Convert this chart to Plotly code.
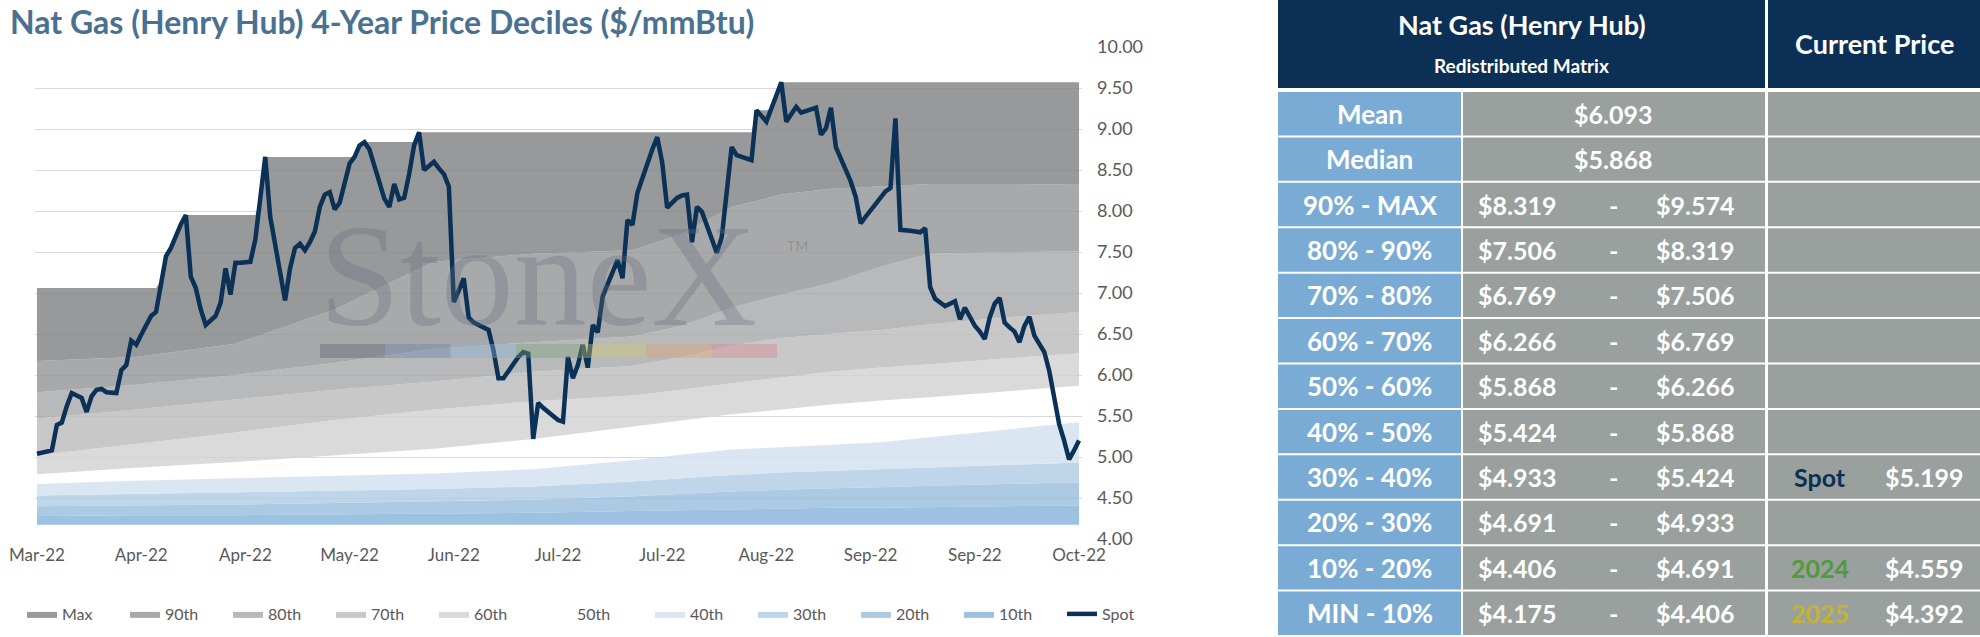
import plotly.graph_objects as go

# --- data ---
tick_labels = ["Mar-22", "Apr-22", "Apr-22", "May-22", "Jun-22", "Jul-22",
               "Jul-22", "Aug-22", "Sep-22", "Sep-22", "Oct-22"]
tick_step = 21

spot = [
    5.04, 5.05, 5.06, 5.08, 5.39, 5.42, 5.62, 5.78, 5.75, 5.72,
    5.55, 5.74, 5.82, 5.83, 5.79, 5.79, 5.78, 6.06, 6.12, 6.42,
    6.37, 6.49, 6.61, 6.72, 6.77, 7.15, 7.45, 7.55, 7.70, 7.84,
    7.95, 7.20, 7.06, 6.80, 6.61, 6.66, 6.72, 6.88, 7.30, 6.98,
    7.37, 7.37, 7.37, 7.38, 7.65, 8.15, 8.66, 7.93, 7.60, 7.25,
    6.91, 7.30, 7.55, 7.60, 7.52, 7.62, 7.75, 8.05, 8.20, 8.23,
    8.02, 8.10, 8.35, 8.58, 8.66, 8.80, 8.84, 8.75, 8.55, 8.35,
    8.15, 8.05, 8.33, 8.14, 8.16, 8.45, 8.80, 8.96, 8.50, 8.55,
    8.60, 8.52, 8.45, 8.30, 6.89, 7.03, 7.18, 6.70, 6.64, 6.61,
    6.58, 6.55, 6.30, 5.96, 5.96, 6.05, 6.13, 6.22, 6.28, 6.26,
    5.22, 5.66, 5.60, 5.55, 5.49, 5.45, 5.43, 6.22, 5.96, 6.12,
    6.37, 6.09, 6.61, 6.52, 6.96, 7.10, 7.25, 7.40, 7.18, 7.89,
    7.83, 8.22, 8.40, 8.59, 8.75, 8.90, 8.59, 8.04, 8.10, 8.16,
    8.19, 8.20, 7.62, 8.05, 7.99, 7.83, 7.66, 7.49, 7.68, 8.20,
    8.78, 8.68, 8.66, 8.64, 8.62, 9.23, 9.16, 9.09, 9.25, 9.40,
    9.57, 9.09, 9.18, 9.27, 9.20, 9.22, 9.24, 9.26, 8.93, 9.01,
    9.26, 8.78, 8.64, 8.50, 8.36, 8.17, 7.85, 7.93, 8.01, 8.09,
    8.17, 8.24, 8.28, 9.13, 7.77, 7.77, 7.76, 7.75, 7.74, 7.79,
    7.07, 6.93, 6.88, 6.84, 6.87, 6.90, 6.68, 6.82, 6.71, 6.60,
    6.53, 6.44, 6.70, 6.87, 6.94, 6.64, 6.58, 6.53, 6.40, 6.60,
    6.71, 6.48, 6.38, 6.28, 6.05, 5.70, 5.40, 5.20, 4.97, 5.08,
    5.20,
]

# running 4-year max (step series)
max_idx = [0, 24, 25, 26, 27, 28, 29, 30, 44, 45, 46, 64, 65, 66, 76, 77,
           144, 145, 147, 148, 149, 150, 210]
max_val = [7.06, 7.06, 7.15, 7.45, 7.55, 7.70, 7.84, 7.95, 7.95, 8.15, 8.66,
           8.66, 8.80, 8.84, 8.84, 8.96, 8.96, 9.23, 9.23, 9.25, 9.40, 9.57, 9.57]

band_idx = [0, 20, 40, 60, 80, 100, 120, 130, 140, 150, 160, 170, 180, 195, 210]
p90 = [6.17, 6.22, 6.38, 6.80, 7.38, 7.48, 7.52, 7.72, 8.05, 8.20, 8.27, 8.30, 8.33, 8.33, 8.319]
p80 = [5.79, 5.88, 6.00, 6.15, 6.32, 6.40, 6.47, 6.60, 6.82, 6.98, 7.12, 7.32, 7.48, 7.50, 7.506]
p70 = [5.47, 5.58, 5.70, 5.82, 5.92, 6.04, 6.11, 6.22, 6.36, 6.45, 6.50, 6.55, 6.62, 6.70, 6.769]
p60 = [5.02, 5.16, 5.30, 5.45, 5.58, 5.68, 5.75, 5.82, 5.90, 5.97, 6.04, 6.09, 6.13, 6.20, 6.266]
p50 = [4.79, 4.87, 4.94, 5.02, 5.10, 5.22, 5.37, 5.45, 5.52, 5.58, 5.64, 5.69, 5.73, 5.80, 5.868]
p40 = [4.67, 4.71, 4.74, 4.77, 4.80, 4.85, 4.96, 5.03, 5.09, 5.12, 5.15, 5.18, 5.24, 5.33, 5.424]
p30 = [4.53, 4.55, 4.57, 4.59, 4.61, 4.64, 4.70, 4.74, 4.78, 4.81, 4.83, 4.85, 4.87, 4.90, 4.933]
p20 = [4.40, 4.41, 4.42, 4.44, 4.46, 4.48, 4.52, 4.55, 4.58, 4.60, 4.62, 4.63, 4.65, 4.67, 4.691]
p10 = [4.28, 4.29, 4.29, 4.30, 4.31, 4.32, 4.34, 4.35, 4.36, 4.37, 4.38, 4.38, 4.39, 4.40, 4.406]
pmin = [4.175, 4.175, 4.175, 4.175, 4.175, 4.175, 4.175, 4.175, 4.175, 4.175, 4.175, 4.175, 4.175, 4.175, 4.175]

# table on the right
row_labels = ["Mean", "Median", "90% - MAX", "80% - 90%", "70% - 80%", "60% - 70%",
              "50% - 60%", "40% - 50%", "30% - 40%", "20% - 30%", "10% - 20%", "MIN - 10%"]
row_low = ["$6.093", "$5.868", "$8.319", "$7.506", "$6.769", "$6.266",
           "$5.868", "$5.424", "$4.933", "$4.691", "$4.406", "$4.175"]
row_high = [None, None, "$9.574", "$8.319", "$7.506", "$6.769",
            "$6.266", "$5.868", "$5.424", "$4.933", "$4.691", "$4.406"]
current_rows = {8: ("Spot", "$5.199", "#0c3055"),
                10: ("2024", "$4.559", "#4f9a3a"),
                11: ("2025", "$4.392", "#c5b332")}

# --- page geometry (pixels) ---
W, H = 1980, 637
L, R, T, B = 35, 898, 47, 98
PW, PH = W - L - R, H - T - B


def px(x):
    return (x - L) / PW


def py(y):
    return 1 - (y - T) / PH


FONT = "Lato"
GREY_TXT = "#595959"

# name, values, fill colour, legend group (two legend rows side by side)
bands = [
    ("10th", p10, "rgba(133,178,218,0.8)", "legend2"),
    ("20th", p20, "rgba(151,189,221,0.8)", "legend2"),
    ("30th", p30, "rgba(175,204,229,0.8)", "legend2"),
    ("40th", p40, "rgba(209,224,239,0.8)", "legend2"),
    ("50th", p50, "rgba(255,255,255,0)", "legend"),
    ("60th", p60, "rgba(209,209,209,0.8)", "legend"),
    ("70th", p70, "rgba(186,186,187,0.8)", "legend"),
    ("80th", p80, "rgba(166,168,170,0.8)", "legend"),
    ("90th", p90, "rgba(146,148,150,0.8)", "legend"),
]

fig = go.Figure()
fig.add_trace(go.Scatter(x=band_idx, y=pmin, mode="lines", line=dict(width=0),
                         showlegend=False, hoverinfo="skip"))
for rank, (name, vals, col, lg) in zip(range(10, 1, -1), bands):
    fig.add_trace(go.Scatter(x=band_idx, y=vals, name=name, mode="lines",
                             line=dict(width=0), fill="tonexty", fillcolor=col,
                             legendrank=rank, legend=lg))
fig.add_trace(go.Scatter(x=max_idx, y=max_val, name="Max", mode="lines",
                         line=dict(width=0), fill="tonexty",
                         fillcolor="rgba(126,128,130,0.8)", legendrank=1))
fig.add_trace(go.Scatter(x=list(range(len(spot))), y=spot, name="Spot", mode="lines",
                         line=dict(color="#0b3157", width=4.5), legendrank=11,
                         legend="legend2"))

shapes = []
annotations = []

# title
annotations.append(dict(text="<b>Nat Gas (Henry Hub) 4-Year Price Deciles ($/mmBtu)</b>",
                        x=px(8), y=py(21), xref="paper", yref="paper",
                        xanchor="left", yanchor="middle", showarrow=False,
                        font=dict(family=FONT, size=32, color="#4a7191")))

# StoneX watermark
annotations.append(dict(text="StoneX", x=px(538), y=py(276), xref="paper", yref="paper",
                        xanchor="center", yanchor="middle", showarrow=False,
                        font=dict(family="Liberation Serif", size=146,
                                  color="rgba(100,110,120,0.32)")))
annotations.append(dict(text="TM", x=px(797), y=py(245), xref="paper", yref="paper",
                        xanchor="center", yanchor="middle", showarrow=False,
                        font=dict(family=FONT, size=14, color="rgba(100,110,120,0.4)")))
bar_cols = ["rgba(90,100,112,0.4)", "rgba(100,130,165,0.4)", "rgba(140,175,215,0.4)",
            "rgba(120,160,120,0.4)", "rgba(210,200,110,0.4)", "rgba(220,160,110,0.4)",
            "rgba(215,130,145,0.4)"]
seg = (777 - 320) / len(bar_cols)
for k, c in enumerate(bar_cols):
    shapes.append(dict(type="rect", xref="paper", yref="paper",
                       x0=px(320 + k * seg), x1=px(320 + (k + 1) * seg),
                       y0=py(358), y1=py(344), fillcolor=c, line=dict(width=0),
                       layer="above"))

# table
NAVY, BLUE, GREY = "#0c3055", "#7aabd4", "#99a09e"
tl, c1, c2, tr = 1278, 1461, 1765, 1980


def rect(x0, x1, y0, y1, col):
    shapes.append(dict(type="rect", xref="paper", yref="paper", x0=px(x0), x1=px(x1),
                       y0=py(y1), y1=py(y0), fillcolor=col, line=dict(width=0),
                       layer="above"))


def label(text, x, y, size=25, color="white", bold=True):
    if bold:
        text = "<b>" + text + "</b>"
    annotations.append(dict(text=text, x=px(x), y=py(y), xref="paper", yref="paper",
                            xanchor="center", yanchor="middle", showarrow=False,
                            font=dict(family=FONT, size=size, color=color)))


rect(tl, c2, 0, 88, NAVY)
rect(c2 + 3, tr, 0, 88, NAVY)
label("Nat Gas (Henry Hub)", (tl + c2) / 2, 24, size=27)
label("Redistributed Matrix", (tl + c2) / 2, 65, size=19)
label("Current Price", (c2 + 3 + tr) / 2, 43, size=27)

row_h = (H - 92) / len(row_labels)
for k, name in enumerate(row_labels):
    y0 = 92 + k * row_h
    y1 = y0 + row_h - 2
    ym = (y0 + y1) / 2
    rect(tl, c1, y0, y1, BLUE)
    rect(c1 + 2, c2, y0, y1, GREY)
    rect(c2 + 3, tr, y0, y1, GREY)
    label(name, (tl + c1) / 2, ym, size=26)
    if row_high[k] is None:
        label(row_low[k], (c1 + c2) / 2, ym)
    else:
        label(row_low[k], 1517, ym)
        label("-", 1613, ym)
        label(row_high[k], 1695, ym)
    if k in current_rows:
        tag, val, col = current_rows[k]
        label(tag, 1820, ym, color=col)
        label(val, 1924, ym)

legend_style = dict(orientation="h", xref="container", yref="container",
                    y=1 - 614 / H, xanchor="left", yanchor="middle",
                    font=dict(family=FONT, size=16, color=GREY_TXT),
                    entrywidth=58, entrywidthmode="pixels", itemwidth=30,
                    bgcolor="rgba(0,0,0,0)", traceorder="normal")

fig.update_layout(
    width=W, height=H,
    margin=dict(l=L, r=R, t=T, b=B, pad=0, autoexpand=False),
    paper_bgcolor="white", plot_bgcolor="white",
    hovermode=False,
    showlegend=True,
    legend=dict(legend_style, x=22 / W),
    legend2=dict(legend_style, x=650 / W),
    xaxis=dict(range=[-0.4, 210.6], tickvals=[i * tick_step for i in range(len(tick_labels))],
               ticktext=tick_labels, showgrid=False, zeroline=False, showline=False,
               ticks="", ticklabelstandoff=4,
               tickfont=dict(family=FONT, size=17, color=GREY_TXT)),
    yaxis=dict(range=[4, 10], dtick=0.5, tickformat=".2f", side="right",
               gridcolor="#d9d9d9", gridwidth=1, zeroline=False, showline=False,
               ticks="", ticklabelstandoff=14,
               tickfont=dict(family=FONT, size=18, color=GREY_TXT)),
    shapes=shapes,
    annotations=annotations,
)

fig.write_html("out.html", config={"displayModeBar": False},
               post_script="document.body.style.margin='0';document.body.style.overflow='hidden';")
